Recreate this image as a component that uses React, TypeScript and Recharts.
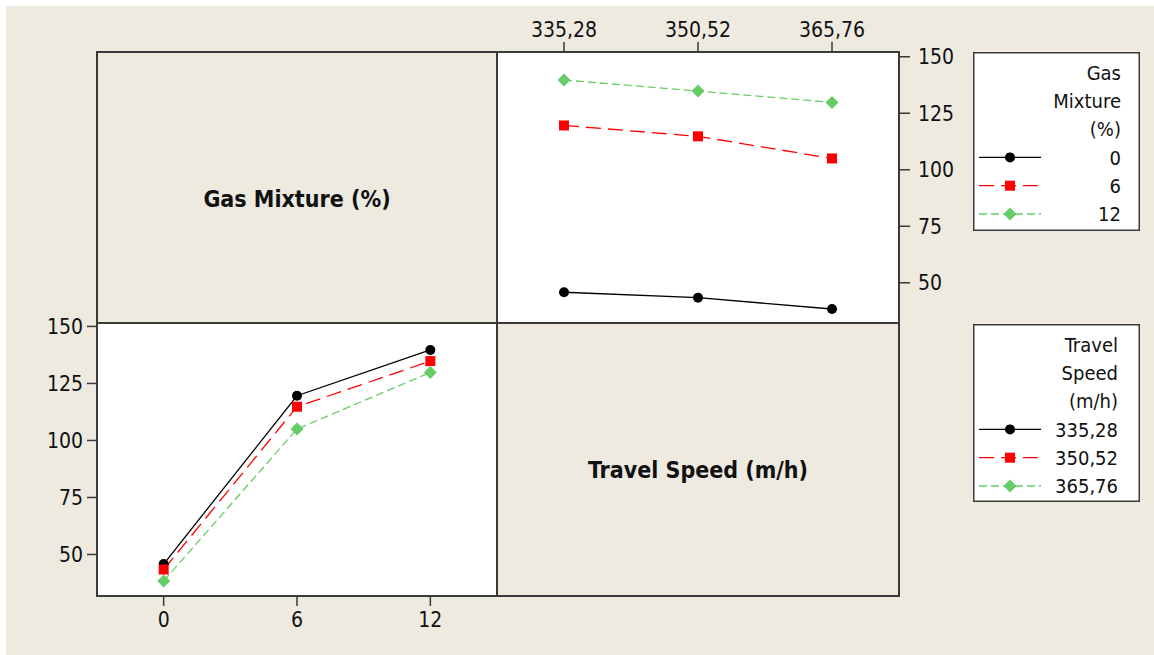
import React from "react";
import { LineChart, Line, XAxis, YAxis } from "recharts";

// travel speed levels (m/h) and gas mixture levels (%)
const speeds = [335.28, 350.52, 365.76];
const gasLevels = [0, 6, 12];

// mean response per gas mixture, one value per travel speed
const gas0 = [45.8, 43.4, 38.4];
const gas6 = [119.6, 114.8, 105.0];
const gas12 = [139.7, 134.8, 129.8];

const yTicks = [50, 75, 100, 125, 150];

const FONT = "'DejaVu Sans Condensed', 'Liberation Sans', sans-serif";
const TEXT = "#111";
const FRAME = "#3a3a3a";
const BEIGE = "#eeeae0";

const series = [
  { color: "#000000", dash: undefined as string | undefined, shape: "circle" },
  { color: "#ff0000", dash: "15 7", shape: "square" },
  { color: "#66cc66", dash: "8 4", shape: "diamond" },
];

// top-right panel: x = travel speed, one line per gas level
const speedData = speeds.map((s, i) => ({
  x: s,
  s0: gas0[i],
  s1: gas6[i],
  s2: gas12[i],
}));

// bottom-left panel: x = gas mixture, one line per travel speed
const gasRows = [gas0, gas6, gas12];
const gasData = gasLevels.map((g, i) => ({
  x: g,
  s0: gasRows[i][0],
  s1: gasRows[i][1],
  s2: gasRows[i][2],
}));

function Marker({ shape, color, cx, cy }: { shape: string; color: string; cx: number; cy: number }) {
  if (shape === "circle") return <circle cx={cx} cy={cy} r={5} fill={color} />;
  if (shape === "square")
    return <rect x={cx - 5} y={cy - 5} width={10} height={10} fill={color} />;
  return (
    <polygon
      points={`${cx},${cy - 6.5} ${cx + 6.5},${cy} ${cx},${cy + 6.5} ${cx - 6.5},${cy}`}
      fill={color}
    />
  );
}

const fmt = (v: number) => v.toFixed(2).replace(".", ",");

const tickStyle = { fontSize: 21, fontFamily: FONT, fill: TEXT };
const tickLine = { stroke: FRAME, strokeWidth: 1.5 };

function renderLines() {
  return series.map((s, i) => (
    <Line
      key={i}
      type="linear"
      dataKey={`s${i}`}
      stroke={s.color}
      strokeWidth={1.3}
      strokeDasharray={s.dash}
      isAnimationActive={false}
      activeDot={false}
      dot={(p: any) => (
        <Marker key={`d${i}-${p.index}`} shape={s.shape} color={s.color} cx={p.cx} cy={p.cy} />
      )}
    />
  ));
}

function LegendBox({
  left,
  top,
  height,
  title,
  labels,
  textRight,
}: {
  left: number;
  top: number;
  height: number;
  title: string[];
  labels: string[];
  textRight: number;
}) {
  const w = 167;
  const rowY = (k: number) => 20.5 + k * 28.3;
  return (
    <svg
      width={w}
      height={height}
      style={{ position: "absolute", left, top, overflow: "visible" }}
    >
      <rect x={0.75} y={0.75} width={w - 1.5} height={height - 1.5} fill="#fff" stroke={FRAME} strokeWidth={1.5} />
      {title.map((t, k) => (
        <text
          key={t}
          x={textRight}
          y={rowY(k)}
          dy="0.36em"
          textAnchor="end"
          fontSize={20}
          fontFamily={FONT}
          fill={TEXT}
        >
          {t}
        </text>
      ))}
      {labels.map((l, k) => {
        const y = rowY(title.length + k);
        const s = series[k];
        return (
          <g key={l}>
            <line x1={6} x2={68} y1={y} y2={y} stroke={s.color} strokeWidth={1.3} strokeDasharray={s.dash} />
            <Marker shape={s.shape} color={s.color} cx={37} cy={y} />
            <text
              x={textRight}
              y={y}
              dy="0.36em"
              textAnchor="end"
              fontSize={20}
              fontFamily={FONT}
              fill={TEXT}
            >
              {l}
            </text>
          </g>
        );
      })}
    </svg>
  );
}

const panelLabel: React.CSSProperties = {
  position: "absolute",
  textAlign: "center",
  fontFamily: FONT,
  fontWeight: "bold",
  fontSize: 23,
  color: TEXT,
};

export default function App() {
  return (
    <div style={{ position: "relative", width: 1154, height: 655, background: "#fff", overflow: "hidden" }}>
      <style>{"body{margin:0}"}</style>
      <div style={{ position: "absolute", left: 6, top: 6, right: 0, bottom: 0, background: BEIGE }} />

      {/* white data panels */}
      <div style={{ position: "absolute", left: 497, top: 52, width: 402, height: 271, background: "#fff" }} />
      <div style={{ position: "absolute", left: 97, top: 323, width: 400, height: 273, background: "#fff" }} />

      {/* diagonal label panels */}
      <div style={{ ...panelLabel, left: 97, top: 186, width: 400 }}>Gas Mixture (%)</div>
      <div style={{ ...panelLabel, left: 497, top: 457, width: 402 }}>Travel Speed (m/h)</div>

      {/* top-right: response vs travel speed */}
      <div style={{ position: "absolute", left: 497, top: 0 }}>
        <LineChart width={462} height={323} data={speedData} margin={{ top: 0, right: 0, bottom: 0, left: 0 }}>
          <XAxis
            dataKey="x"
            type="number"
            orientation="top"
            height={52}
            domain={[327.66, 373.38]}
            ticks={speeds}
            tickFormatter={fmt}
            axisLine={false}
            tickLine={tickLine}
            tickSize={10}
            tickMargin={5}
            tick={tickStyle}
            allowDataOverflow
          />
          <YAxis
            type="number"
            orientation="right"
            width={60}
            domain={[32.2, 152.1]}
            ticks={yTicks}
            axisLine={false}
            tickLine={tickLine}
            tickSize={11}
            tickMargin={8}
            tick={tickStyle}
            allowDataOverflow
          />
          {renderLines()}
        </LineChart>
      </div>

      {/* bottom-left: response vs gas mixture */}
      <div style={{ position: "absolute", left: 37, top: 308 }}>
        <LineChart width={460} height={347} data={gasData} margin={{ top: 15, right: 0, bottom: 0, left: 0 }}>
          <XAxis
            dataKey="x"
            type="number"
            orientation="bottom"
            height={59}
            domain={[-3, 15]}
            ticks={gasLevels}
            axisLine={false}
            tickLine={tickLine}
            tickSize={10}
            tickMargin={6}
            tick={tickStyle}
            allowDataOverflow
          />
          <YAxis
            type="number"
            orientation="left"
            width={60}
            domain={[31.8, 151.5]}
            ticks={yTicks}
            axisLine={false}
            tickLine={tickLine}
            tickSize={10}
            tickMargin={4}
            tick={tickStyle}
            allowDataOverflow
          />
          {renderLines()}
        </LineChart>
      </div>

      {/* matrix frame */}
      <svg width={1154} height={655} style={{ position: "absolute", left: 0, top: 0, pointerEvents: "none" }}>
        <rect x={97} y={52} width={802} height={544} fill="none" stroke={FRAME} strokeWidth={2} />
        <line x1={497} x2={497} y1={52} y2={596} stroke={FRAME} strokeWidth={2} />
        <line x1={97} x2={899} y1={323} y2={323} stroke={FRAME} strokeWidth={2} />
      </svg>

      <LegendBox
        left={973}
        top={52}
        height={179}
        title={["Gas", "Mixture", "(%)"]}
        labels={gasLevels.map(String)}
        textRight={148}
      />
      <LegendBox
        left={973}
        top={324}
        height={178}
        title={["Travel", "Speed", "(m/h)"]}
        labels={speeds.map(fmt)}
        textRight={145}
      />
    </div>
  );
}
